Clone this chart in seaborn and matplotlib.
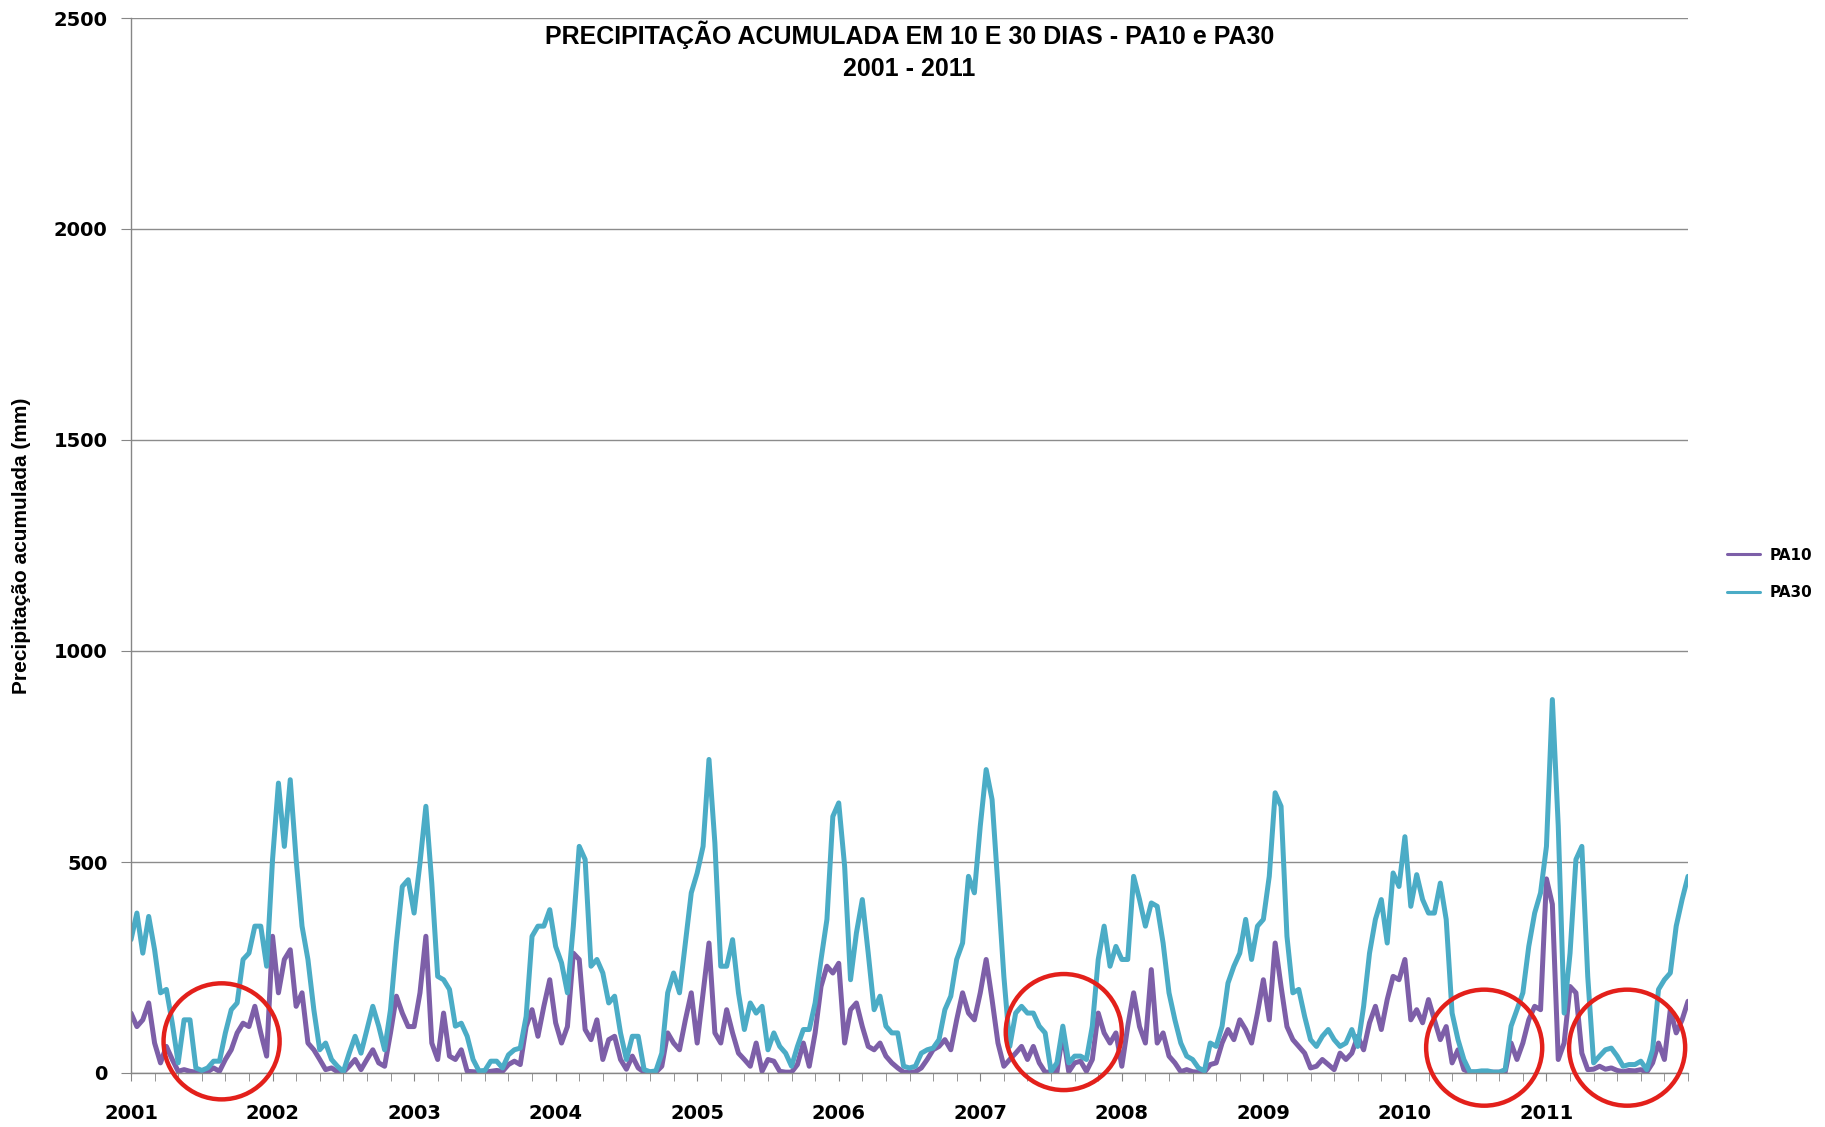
import numpy as np
import pandas as pd
import matplotlib
matplotlib.use("Agg")
import matplotlib.pyplot as plt
from matplotlib.patches import Ellipse
from matplotlib.ticker import MultipleLocator
import seaborn as sns

# valores, 24 amostras por ano (quinzenais) + ponto final
anos = list(range(2001, 2012))
pontos_por_ano = 24

pa30 = [
    316, 379, 284, 371, 292, 190, 198, 118, 24, 126, 126, 12, 6, 12, 28, 28, 95, 150, 166, 269, 284, 348, 348, 253,  # 2001
    506, 687, 537, 695, 506, 348, 269, 150, 55, 71, 32, 16, 3, 47, 87, 47, 103, 158, 111, 55, 150, 308, 442, 458,  # 2002
    379, 498, 632, 450, 229, 221, 198, 111, 118, 87, 32, 5, 6, 28, 28, 12, 43, 55, 59, 134, 324, 348, 348, 387,  # 2003
    300, 261, 190, 348, 537, 506, 253, 269, 237, 166, 182, 95, 32, 87, 87, 8, 3, 5, 47, 190, 237, 190, 308, 427,  # 2004
    474, 537, 743, 545, 253, 253, 316, 190, 103, 166, 142, 158, 55, 95, 63, 47, 16, 63, 103, 103, 166, 269, 364, 608,  # 2005
    640, 490, 221, 332, 411, 284, 150, 182, 111, 95, 95, 16, 12, 16, 47, 55, 59, 79, 150, 182, 269, 308, 466, 427,  # 2006
    585, 719, 648, 442, 229, 63, 142, 158, 142, 142, 111, 95, 4, 24, 111, 24, 40, 40, 32, 111, 269, 348, 253, 300,  # 2007
    269, 269, 466, 411, 348, 403, 395, 308, 190, 126, 71, 40, 32, 12, 5, 71, 63, 111, 213, 253, 284, 364, 269, 348,  # 2008
    364, 466, 664, 632, 324, 190, 198, 134, 79, 63, 87, 103, 79, 63, 71, 103, 63, 158, 284, 364, 411, 308, 474, 442,  # 2009
    560, 395, 470, 411, 379, 379, 450, 364, 142, 79, 32, 3, 3, 5, 5, 2, 2, 8, 111, 150, 190, 300, 379, 427,  # 2010
    537, 885, 585, 142, 284, 506, 537, 229, 24, 40, 55, 59, 40, 16, 20, 20, 28, 8, 55, 198, 221, 237, 348, 411,  # 2011
    466,
]

pa10 = [
    142, 110, 126, 166, 71, 24, 63, 32, 4, 8, 4, 2, 2, 3, 12, 4, 32, 55, 95, 118, 110, 158, 95, 40,  # 2001
    324, 190, 269, 292, 158, 190, 71, 55, 32, 8, 12, 3, 2, 16, 32, 8, 32, 55, 24, 16, 95, 182, 142, 110,  # 2002
    110, 190, 324, 71, 32, 142, 40, 32, 55, 4, 3, 2, 2, 4, 6, 4, 20, 28, 20, 110, 150, 87, 158, 221,  # 2003
    119, 71, 110, 284, 269, 103, 79, 126, 32, 79, 87, 32, 9, 40, 12, 2, 2, 2, 16, 95, 71, 55, 126, 190,  # 2004
    71, 190, 308, 95, 71, 150, 95, 47, 32, 16, 71, 4, 32, 28, 4, 2, 2, 20, 71, 16, 95, 205, 253, 237,  # 2005
    260, 71, 150, 166, 110, 63, 55, 71, 40, 24, 12, 2, 2, 3, 12, 32, 55, 63, 79, 55, 126, 190, 142, 126,  # 2006
    190, 269, 174, 71, 16, 32, 47, 63, 32, 63, 24, 2, 2, 2, 95, 3, 24, 28, 4, 32, 142, 95, 71, 95,  # 2007
    16, 110, 190, 110, 71, 245, 71, 95, 40, 24, 3, 8, 3, 2, 2, 20, 24, 71, 103, 79, 126, 103, 71, 142,  # 2008
    221, 126, 308, 205, 110, 79, 63, 47, 12, 16, 32, 20, 8, 47, 32, 47, 87, 55, 119, 158, 103, 174, 229, 221,  # 2009
    269, 126, 150, 119, 174, 126, 79, 110, 24, 55, 8, 2, 2, 2, 2, 2, 2, 2, 71, 32, 71, 126, 158, 150,  # 2010
    460, 400, 32, 71, 205, 190, 47, 8, 9, 16, 9, 12, 6, 3, 6, 5, 8, 2, 24, 71, 32, 150, 95, 126,  # 2011
    170,
]

# periodos secos destacados (ano decimal, mm)
destaques_t = [2001.64, 2007.59, 2010.56, 2011.57]
destaques_v = [75, 97, 60, 60]

t = [a + k / pontos_por_ano for a in anos for k in range(pontos_por_ano)] + [anos[-1] + 1]
df = pd.DataFrame({
    "t": t * 2,
    "valor": pa10 + pa30,
    "serie": ["PA10"] * len(t) + ["PA30"] * len(t),
})

sns.set_style("white")
plt.rcParams["font.family"] = ["DejaVu Sans"]
plt.rcParams["text.color"] = "black"
plt.rcParams["xtick.color"] = "black"
plt.rcParams["ytick.color"] = "black"
plt.rcParams["axes.labelcolor"] = "black"
fonte_titulo = ["Liberation Sans", "DejaVu Sans"]

fig = plt.figure(figsize=(18.25, 11.27), dpi=100)
ax = fig.add_axes([131 / 1825, 1 - 1073 / 1127, (1688 - 131) / 1825, (1073 - 18) / 1127])

sns.lineplot(data=df, x="t", y="valor", hue="serie",
             palette={"PA10": "#7d5fa8", "PA30": "#4bacc6"},
             linewidth=3.6, ax=ax)

ax.set_xlim(2001, 2012)
ax.set_ylim(0, 2500)
ax.set_yticks(range(0, 2501, 500))
ax.set_xticks(anos)
ax.set_xticklabels([str(a) for a in anos], fontweight="bold", fontsize=14)
ax.set_yticklabels([str(v) for v in range(0, 2501, 500)], fontweight="bold", fontsize=14)
ax.xaxis.set_minor_locator(MultipleLocator(1 / 6))
ax.tick_params(axis="x", which="both", direction="out", length=6, color="#868686", pad=16, bottom=True)
ax.tick_params(axis="y", direction="out", length=7, color="#868686", pad=10, left=True)
ax.yaxis.grid(True, color="#8c8c8c", linewidth=1)
ax.set_axisbelow(True)
for s in ["top", "right"]:
    ax.spines[s].set_visible(False)
for s in ["left", "bottom"]:
    ax.spines[s].set_color("#868686")
    ax.spines[s].set_linewidth(1)

ax.set_xlabel("")
ax.set_ylabel("Precipitação acumulada (mm)", fontweight="bold", fontsize=15,
              family=fonte_titulo, labelpad=16)

ax.text(0.5, 0.998, "PRECIPITAÇÃO ACUMULADA EM 10 E 30 DIAS - PA10 e PA30\n2001 - 2011",
        transform=ax.transAxes, ha="center", va="top", fontsize=18, fontweight="bold",
        linespacing=1.45, family=fonte_titulo)

for x0, y0 in zip(destaques_t, destaques_v):
    ax.add_patch(Ellipse((x0, y0), width=0.82, height=275, fill=False,
                         edgecolor="#e3201b", linewidth=3.2, clip_on=False, zorder=5))

leg = ax.legend(loc="center left", bbox_to_anchor=(1.016, 0.473), frameon=False,
                handlelength=2.2, handletextpad=0.6, labelspacing=1.5, fontsize=11)
for txt in leg.get_texts():
    txt.set_fontweight("bold")
for ln in leg.get_lines():
    ln.set_linewidth(2.2)

fig.savefig("out.png", dpi=100)
